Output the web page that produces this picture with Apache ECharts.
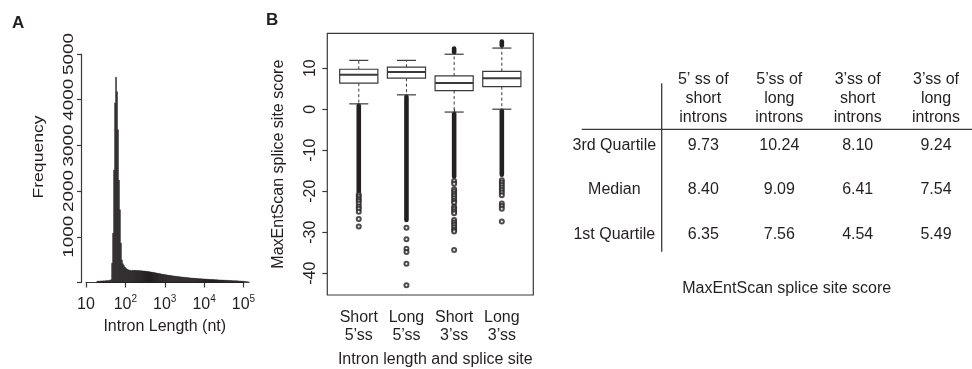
<!DOCTYPE html>
<html><head><meta charset="utf-8">
<script src="https://cdn.jsdelivr.net/npm/echarts@6/dist/echarts.min.js"></script>
<style>html,body{margin:0;padding:0;background:#fff}#c{width:972px;height:369px}</style>
</head><body><div id="c"></div>
<script>
// ---------- Panel A: intron length histogram (log10 bins) ----------
const histLog10Start = 1.275;
const histLog10Width = 0.025;
const histFreq = [
  26, 30, 28, 32, 34, 33, 36, 35, 38, 40, 39, 42, 45, 48, 62,
  420, 1080, 2460, 3930, 4490, 4175, 3340, 2240, 1590, 860,
  490, 410, 372, 338, 318, 296, 285, 272, 268, 262,
  258, 266, 262, 268, 264, 260, 265, 261, 257, 259,
  255, 252, 254, 249, 246, 244, 240, 238, 235, 231,
  228, 224, 221, 216, 212, 208, 203, 199, 195, 190,
  186, 182, 178, 174, 170, 167, 163, 160, 157, 153,
  150, 147, 144, 141, 138, 135, 132, 130, 127, 124,
  122, 119, 117, 115, 112, 110, 108, 105, 103, 101,
  99, 97, 95, 93, 91, 89, 88, 86, 84, 83,
  81, 80, 78, 77, 75, 74, 72, 71, 70, 68,
  67, 66, 64, 63, 62, 61, 59, 58, 57, 56,
  55, 54, 53, 52, 50, 49, 48, 47, 46, 45,
  44, 43, 41, 40, 39, 38, 37, 36, 35, 34,
  33, 31, 30, 28, 26, 24, 21, 18, 15, 12
];
const histXMin = 10, histXMax = 100000;
const histYTicks = [0, 1000, 2000, 3000, 4000, 5000];
const histYLabels = [1000, 2000, 3000, 4000, 5000];

// ---------- Panel B: MaxEntScan box plots ----------
const boxCategories = ['Short\n5\u2019ss', 'Long\n5\u2019ss', 'Short\n3\u2019ss', 'Long\n3\u2019ss'];
const boxQ1 = [6.35, 7.56, 4.54, 5.49];
const boxMedian = [8.40, 9.09, 6.41, 7.54];
const boxQ3 = [9.73, 10.24, 8.10, 9.24];
const boxWhiskerLow = [1.3, 3.5, -0.7, 0.0];
const boxWhiskerHigh = [11.9, 11.9, 13.4, 14.9];
// dense runs of outliers (too many points to separate)
const denseGroup = [1, 2, 3, 3, 4, 4];
const denseHigh = [0.9, 3.0, -1.1, 14.8, -0.4, 16.5];
const denseLow = [-20.0, -27.0, -16.4, 13.9, -16.0, 15.5];
// individually visible outliers
const outShort5 = [-20.8, -21.3, -21.9, -22.4, -23.0, -23.7, -24.3, -25.0, -26.8, -28.6];
const outLong5 = [-28.9, -31.7, -34.0, -34.8, -37.7, -42.9];
const outShort3 = [-17.5, -18.2, -19.5, -20.0, -20.6, -21.1, -21.7, -22.3, -22.8, -23.8, -24.3, -24.9, -25.4, -27.0, -27.6, -28.2, -28.8, -29.4, -29.8, -34.3];
const outLong3 = [-17.3, -17.9, -18.5, -19.1, -19.7, -20.3, -21.0, -23.0, -23.6, -24.3, -27.4];
const boxYTicks = [-40, -30, -20, -10, 0, 10];
const boxYMin = -45.3, boxYMax = 18.5;

// ---------- Table ----------
const tableHeaders = [
  '5\u2019 ss of\nshort\nintrons',
  '5\u2019ss of\nlong\nintrons',
  '3\u2019ss of\nshort\nintrons',
  '3\u2019ss of\nlong\nintrons'
];
const tableRowLabels = ['3rd Quartile', 'Median', '1st Quartile'];
const tableRows = [boxQ3, boxMedian, boxQ1];
const tableCaption = 'MaxEntScan splice site score';

// ---------- build ----------
const FONT = '"Liberation Sans", Arial, Helvetica, sans-serif';
const INK = '#231f20';
const LINE = '#3a3a3a';

const histData = histFreq.map((f, i) => [
  Math.pow(10, histLog10Start + i * histLog10Width),
  Math.pow(10, histLog10Start + (i + 1) * histLog10Width),
  f
]);
const boxData = boxQ1.map((q, i) => [i + 1, boxWhiskerLow[i], q, boxMedian[i], boxQ3[i], boxWhiskerHigh[i]]);
const denseData = denseGroup.map((g, i) => [g, denseHigh[i], denseLow[i]]);
const sparseData = [];
[outShort5, outLong5, outShort3, outLong3].forEach((arr, i) => arr.forEach(v => sparseData.push([i + 1, v])));

const chart = echarts.init(document.getElementById('c'), null, {renderer: 'canvas'});

const graphics = [
  {type: 'text', left: 12, top: 15, style: {text: 'A', font: 'bold 17px ' + FONT, fill: INK}},
  {type: 'text', left: 266, top: 12, style: {text: 'B', font: 'bold 17px ' + FONT, fill: INK}},
  {type: 'text', x: 39, y: 157, rotation: Math.PI / 2, scaleX: 1.17, style: {text: 'Frequency', fontSize: 15, fontFamily: FONT, fill: INK, align: 'center', verticalAlign: 'middle'}},
  {type: 'line', shape: {x1: 581.7, y1: 129.3, x2: 972, y2: 129.3}, style: {stroke: LINE, lineWidth: 1.3}},
  {type: 'line', shape: {x1: 661.7, y1: 83.3, x2: 661.7, y2: 251.7}, style: {stroke: LINE, lineWidth: 1.3}},
  {type: 'text', x: 786.7, y: 288.3, style: {text: tableCaption, fontSize: 16, fontFamily: FONT, fill: INK, align: 'center', verticalAlign: 'middle'}}
];
const colX = [703.3, 779.3, 857.7, 936];
const rowY = [146, 190, 234.3];
tableHeaders.forEach((h, j) => graphics.push({type: 'text', x: colX[j], y: 99, style: {text: h, fontSize: 16, lineHeight: 19, fontFamily: FONT, fill: INK, align: 'center', verticalAlign: 'middle'}}));
tableRowLabels.forEach((r, i) => {
  graphics.push({type: 'text', x: 614.3, y: rowY[i], style: {text: r, fontSize: 16, fontFamily: FONT, fill: INK, align: 'center', verticalAlign: 'middle'}});
  tableRows[i].forEach((v, j) => graphics.push({type: 'text', x: colX[j], y: rowY[i], style: {text: v.toFixed(2), fontSize: 16, fontFamily: FONT, fill: INK, align: 'center', verticalAlign: 'middle'}}));
});

const axisLineStyle = {color: LINE, width: 1.2};

chart.setOption({
  animation: false,
  backgroundColor: '#fff',
  textStyle: {fontFamily: FONT, color: INK},
  grid: [
    {left: 86, right: 972 - 243.5, top: 54, bottom: 369 - 282.5, containLabel: false, outerBoundsMode: 'none'},
    {left: 327.3, right: 972 - 533.3, top: 33.3, bottom: 369 - 295, show: true, borderColor: LINE, borderWidth: 1.2, containLabel: false, outerBoundsMode: 'none'}
  ],
  xAxis: [
    {
      type: 'log', logBase: 10, gridIndex: 0, min: histXMin, max: histXMax, offset: 9,
      axisLine: {show: true, lineStyle: axisLineStyle},
      axisTick: {show: true, inside: false, length: 5, lineStyle: axisLineStyle},
      splitLine: {show: false}, minorTick: {show: false},
      axisLabel: {
        margin: 3, color: INK,
        formatter: v => {
          const e = Math.round(Math.log10(v));
          return e === 1 ? '{b|10}' : '{b|10}{sup|' + e + '}';
        },
        rich: {
          b: {fontSize: 16, lineHeight: 20, fontFamily: FONT, color: INK},
          sup: {fontSize: 10, lineHeight: 10, verticalAlign: 'top', fontFamily: FONT, color: INK}
        }
      },
      name: 'Intron Length (nt)', nameLocation: 'middle', nameGap: 27,
      nameTextStyle: {fontSize: 16, color: INK, fontFamily: FONT}
    },
    {
      type: 'value', gridIndex: 1, min: 0.34, max: 4.66,
      axisLine: {show: false}, splitLine: {show: false},
      axisTick: {show: true, inside: false, length: 5, lineStyle: axisLineStyle, customValues: [1, 2, 3, 4]},
      axisLabel: {customValues: [1, 2, 3, 4], formatter: v => boxCategories[Math.round(v) - 1], fontSize: 16, lineHeight: 18, margin: 14, color: INK},
      name: 'Intron length and splice site', nameLocation: 'middle', nameGap: 57,
      nameTextStyle: {fontSize: 16, color: INK, fontFamily: FONT, padding: [0, 0, 0, 10]}
    }
  ],
  yAxis: [
    {
      type: 'value', gridIndex: 0, min: 0, max: 5000, interval: 1000, offset: 5,
      axisLine: {show: true, lineStyle: axisLineStyle},
      axisTick: {show: true, inside: false, length: 4, lineStyle: axisLineStyle},
      splitLine: {show: false},
      axisLabel: {show: false}
    },
    {
      type: 'value', gridIndex: 1, min: boxYMin, max: boxYMax,
      axisLine: {show: false}, splitLine: {show: false},
      axisTick: {show: true, inside: false, length: 5, lineStyle: axisLineStyle, customValues: boxYTicks},
      axisLabel: {customValues: boxYTicks, rotate: 90, margin: 9, fontSize: 16, color: INK},
      name: 'MaxEntScan splice site score', nameLocation: 'middle', nameRotate: 90, nameGap: 41,
      nameTextStyle: {fontSize: 16, color: INK, fontFamily: FONT}
    }
  ],
  graphic: graphics,
  series: [
    {
      type: 'custom', xAxisIndex: 0, yAxisIndex: 0, data: histData,
      encode: {x: [0, 1], y: 2}, clip: false,
      renderItem: (params, api) => {
        const a = api.coord([api.value(0), api.value(2)]);
        const b = api.coord([api.value(1), 0]);
        return {type: 'rect', shape: {x: a[0], y: a[1], width: b[0] - a[0], height: b[1] - a[1]},
          style: {fill: INK, stroke: INK, lineWidth: 0.4}};
      }
    },
    {
      // y tick labels of panel A (tall, narrow rotated digits as in the figure)
      type: 'custom', xAxisIndex: 0, yAxisIndex: 0,
      data: histYLabels.map(v => [histXMin, v]),
      encode: {x: 0, y: 1}, clip: false, silent: true,
      renderItem: (params, api) => {
        const p = api.coord([api.value(0), api.value(1)]);
        return {type: 'text', x: p[0] - 16.5, y: p[1], rotation: Math.PI / 2, scaleX: 1.35,
          style: {text: String(api.value(1)), fontSize: 14, fontFamily: FONT, fill: INK, align: 'center', verticalAlign: 'middle'}};
      }
    },
    {
      type: 'custom', xAxisIndex: 1, yAxisIndex: 1, data: boxData,
      encode: {x: 0, y: [1, 2, 3, 4, 5]}, z: 3,
      renderItem: (params, api) => {
        const x = api.value(0), lo = api.value(1), q1 = api.value(2), md = api.value(3), q3 = api.value(4), hi = api.value(5);
        const hw = 0.4, cw = 0.2;
        const tl = api.coord([x - hw, q3]), br = api.coord([x + hw, q1]);
        const m0 = api.coord([x - hw, md]), m1 = api.coord([x + hw, md]);
        const pq3 = api.coord([x, q3]), phi = api.coord([x, hi]), pq1 = api.coord([x, q1]), plo = api.coord([x, lo]);
        const h0 = api.coord([x - cw, hi]), h1 = api.coord([x + cw, hi]);
        const l0 = api.coord([x - cw, lo]), l1 = api.coord([x + cw, lo]);
        const dash = {stroke: LINE, lineWidth: 1, lineDash: [3, 2.5]};
        const solid = {stroke: LINE, lineWidth: 1.2};
        return {type: 'group', children: [
          {type: 'line', shape: {x1: pq3[0], y1: pq3[1], x2: phi[0], y2: phi[1]}, style: dash},
          {type: 'line', shape: {x1: pq1[0], y1: pq1[1], x2: plo[0], y2: plo[1]}, style: dash},
          {type: 'line', shape: {x1: h0[0], y1: h0[1], x2: h1[0], y2: h1[1]}, style: solid},
          {type: 'line', shape: {x1: l0[0], y1: l0[1], x2: l1[0], y2: l1[1]}, style: solid},
          {type: 'rect', shape: {x: tl[0], y: tl[1], width: br[0] - tl[0], height: br[1] - tl[1]}, style: {fill: '#fff', stroke: LINE, lineWidth: 1.2}},
          {type: 'line', shape: {x1: m0[0], y1: m0[1], x2: m1[0], y2: m1[1]}, style: {stroke: LINE, lineWidth: 2}}
        ]};
      }
    },
    {
      type: 'custom', xAxisIndex: 1, yAxisIndex: 1, data: denseData,
      encode: {x: 0, y: [1, 2]}, z: 2,
      renderItem: (params, api) => {
        const a = api.coord([api.value(0), api.value(1)]);
        const b = api.coord([api.value(0), api.value(2)]);
        return {type: 'line', shape: {x1: a[0], y1: a[1], x2: b[0], y2: b[1]},
          style: {stroke: INK, lineWidth: 4.6, lineCap: 'round'}};
      }
    },
    {
      type: 'scatter', xAxisIndex: 1, yAxisIndex: 1, data: sparseData, z: 2,
      symbol: 'emptyCircle', symbolSize: 4, itemStyle: {color: INK, borderColor: INK, borderWidth: 1}
    }
  ]
});
</script>
</body></html>
